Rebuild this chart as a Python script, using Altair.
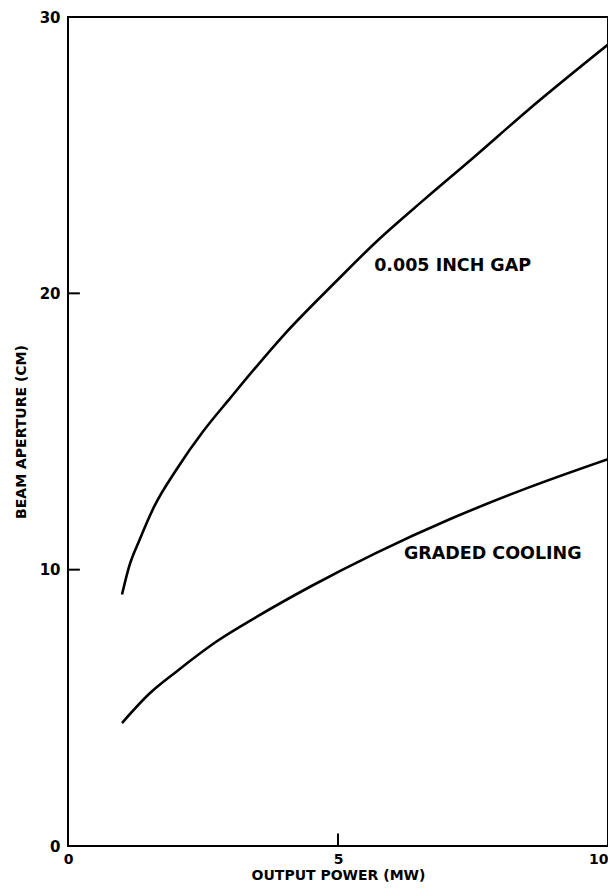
import altair as alt
import pandas as pd

# Upper curve: 0.005 INCH GAP
gap_x = [1.0, 1.13, 1.33, 1.6, 2.0, 2.5, 3.0, 4.0, 5.0, 5.7, 6.6, 7.5, 8.5, 10.0]
gap_y = [9.1, 10.1, 11.1, 12.3, 13.6, 15.0, 16.2, 18.5, 20.5, 21.85, 23.4, 24.9, 26.6, 29.0]

# Lower curve: GRADED COOLING
graded_x = [1.0, 1.5, 2.0, 2.75, 3.5, 4.5, 5.7, 7.1, 8.5, 10.0]
graded_y = [4.45, 5.5, 6.3, 7.4, 8.3, 9.4, 10.6, 11.85, 12.95, 14.0]

series_names = ["0.005 INCH GAP", "GRADED COOLING"]
label_x = [5.67, 6.22]
label_y = [20.98, 10.58]

x_ticks = [0, 5, 10]
y_ticks = [0, 10, 20, 30]

df = pd.concat([
    pd.DataFrame({"x": gap_x, "y": gap_y, "series": series_names[0]}),
    pd.DataFrame({"x": graded_x, "y": graded_y, "series": series_names[1]}),
])

labels_df = pd.DataFrame({"x": label_x, "y": label_y, "text": series_names})

# inward tick marks (data positions)
tick_df = pd.DataFrame({
    "x": [0, 0, 5],
    "x2": [0.22, 0.22, 5],
    "y": [10, 20, 0],
    "y2": [10, 20, 0.45],
})

xscale = alt.Scale(domain=[0, 10], nice=False, zero=False)
yscale = alt.Scale(domain=[0, 30], nice=False)

xaxis = alt.Axis(
    values=x_ticks, title="OUTPUT POWER (MW)", grid=False, domain=False,
    ticks=False, labelPadding=6, titlePadding=2, labelFontSize=14,
    labelAlign=alt.ExprRef(expr="datum.value == 10 ? 'right' : 'center'"),
)
yaxis = alt.Axis(
    values=y_ticks, title="BEAM APERTURE (CM)", grid=False, domain=False,
    ticks=False, labelPadding=8, titlePadding=11,
)

lines = alt.Chart(df).mark_line(
    color="black", strokeWidth=2.6, interpolate="monotone"
).encode(
    x=alt.X("x:Q", scale=xscale, axis=xaxis),
    y=alt.Y("y:Q", scale=yscale, axis=yaxis),
    detail="series:N",
)

ticks = alt.Chart(tick_df).mark_rule(color="black", strokeWidth=2).encode(
    x=alt.X("x:Q", scale=xscale),
    x2="x2:Q",
    y=alt.Y("y:Q", scale=yscale),
    y2="y2:Q",
)

text = alt.Chart(labels_df).mark_text(
    align="left", baseline="middle", font="DejaVu Sans", fontWeight="bold",
    fontSize=17.5, color="black",
).encode(
    x=alt.X("x:Q", scale=xscale),
    y=alt.Y("y:Q", scale=yscale),
    text="text:N",
)

chart = alt.layer(lines, ticks, text).properties(
    width=540, height=829,
    autosize="none",
    padding={"left": 60, "top": 9, "right": 0, "bottom": 38},
).configure_view(
    stroke="black", strokeWidth=2,
).configure_axis(
    labelFont="DejaVu Sans", labelFontWeight="bold", labelFontSize=15,
    labelColor="black",
    titleFont="DejaVu Sans", titleFontWeight="bold", titleFontSize=14,
    titleColor="black",
)

chart.save("out.html", embed_options={"renderer": "svg", "actions": False})
